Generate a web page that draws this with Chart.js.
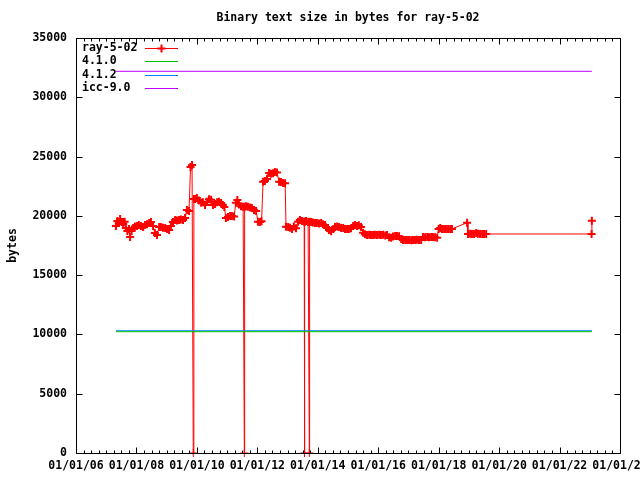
<!DOCTYPE html>
<html>
<head>
<meta charset="utf-8">
<title>Binary text size in bytes for ray-5-02</title>
<script src="https://cdn.jsdelivr.net/npm/chart.js@4.4.0/dist/chart.umd.min.js"></script>
<style>
  html, body { margin: 0; padding: 0; background: #fff; }
  #chart { display: block; }
</style>
</head>
<body>
<canvas id="chart" width="640" height="480"></canvas>
<script>
// --- Data (dates as decimal years) ---
const seriesNames = ['ray-5-02', '4.1.0', '4.1.2', 'icc-9.0'];

const rayDates = [
  2007.32, 2007.37, 2007.42, 2007.46, 2007.51, 2007.56, 2007.61, 2007.65, 2007.70, 2007.75,
  2007.79, 2007.84, 2007.89, 2007.95, 2008.02, 2008.08, 2008.15, 2008.22, 2008.28, 2008.35,
  2008.42, 2008.48, 2008.55, 2008.61, 2008.68, 2008.75, 2008.81, 2008.88, 2008.95, 2009.01,
  2009.08, 2009.14, 2009.21, 2009.28, 2009.34, 2009.41, 2009.47, 2009.54, 2009.61, 2009.67,
  2009.74, 2009.79, 2009.84, 2009.88, 2009.90,
  2009.94, 2010.00, 2010.07, 2010.14, 2010.20, 2010.27, 2010.34, 2010.40, 2010.47, 2010.53,
  2010.60, 2010.67, 2010.73, 2010.80, 2010.86, 2010.91, 2010.96, 2011.03, 2011.10, 2011.16,
  2011.23, 2011.29, 2011.34, 2011.39, 2011.46, 2011.53, 2011.57, 2011.58, 2011.63, 2011.69,
  2011.76, 2011.82, 2011.89, 2011.96, 2012.02, 2012.09, 2012.14, 2012.19, 2012.25, 2012.32,
  2012.39, 2012.45, 2012.52, 2012.58, 2012.65, 2012.72, 2012.78, 2012.85, 2012.92, 2012.95,
  2013.02, 2013.08, 2013.15, 2013.21, 2013.28, 2013.35, 2013.41, 2013.48, 2013.55, 2013.56,
  2013.57, 2013.61, 2013.68, 2013.72, 2013.73, 2013.78, 2013.84, 2013.91, 2013.97, 2014.04,
  2014.11, 2014.17, 2014.24, 2014.31, 2014.37, 2014.44, 2014.51, 2014.57, 2014.64, 2014.70,
  2014.77, 2014.84, 2014.90, 2014.97, 2015.03, 2015.10, 2015.17, 2015.23, 2015.30, 2015.36,
  2015.43, 2015.50, 2015.56, 2015.63, 2015.70, 2015.76, 2015.83, 2015.89, 2015.96, 2016.03,
  2016.09, 2016.16, 2016.23, 2016.29, 2016.36, 2016.42, 2016.49, 2016.56, 2016.62, 2016.69,
  2016.76, 2016.82, 2016.89, 2016.95, 2017.02, 2017.09, 2017.15, 2017.22, 2017.28, 2017.35,
  2017.42, 2017.48, 2017.55, 2017.62, 2017.68, 2017.75, 2017.81, 2017.88, 2017.95, 2018.00,
  2018.05, 2018.11, 2018.18, 2018.24, 2018.31, 2018.38, 2018.44, 2018.94, 2018.97, 2019.04,
  2019.10, 2019.17, 2019.24, 2019.30, 2019.37, 2019.44, 2019.50, 2019.57, 2023.06, 2023.07
];

const raySizes = [
  19150, 19560, 19400, 19740, 19480, 19310, 19500, 18980, 18720, 18900,
  18220, 18720, 18980, 19100, 19150, 19230, 19150, 19060, 19230, 19300,
  19400, 19480, 19150, 18560, 18390, 19060, 19060, 19000, 18980, 18900,
  18800, 19150, 19480, 19650, 19600, 19650, 19700, 19650, 19820, 20490,
  20400, 24120, 24290, 0, 21420,
  21420, 21500, 21300, 21110, 21150, 20920, 21200, 21400, 21350, 20920,
  21000, 21150, 21200, 21090, 20920, 20750, 19820, 19900, 19990, 19990,
  19950, 21110, 21340, 20950, 20800, 20770, 0, 20770, 20800, 20770,
  20700, 20660, 20500, 20410, 19510, 19480, 19550, 22880, 22950, 23100,
  23620, 23550, 23600, 23700, 23650, 22880, 22850, 22770, 22750, 19090,
  19060, 19000, 18900, 19100, 18950, 19510, 19650, 19570, 19500, 0,
  19500, 19570, 19480, 0, 19500, 19480, 19450, 19400, 19400, 19350,
  19400, 19300, 19230, 18980, 18810, 18700, 18900, 19060, 19100, 19050,
  18980, 18980, 18900, 18900, 18890, 18950, 19150, 19230, 19150, 19200,
  19060, 18580, 18450, 18390, 18400, 18390, 18390, 18400, 18390, 18400,
  18390, 18400, 18350, 18390, 18200, 18160, 18250, 18300, 18300, 18280,
  18050, 17960, 17960, 17970, 17960, 17950, 17960, 17960, 17980, 17960,
  17970, 18220, 18200, 18220, 18190, 18220, 18220, 18200, 18150, 18890,
  18980, 18900, 18890, 18900, 18890, 18890, 18900, 19420, 18470, 18500,
  18470, 18470, 18550, 18500, 18470, 18480, 18470, 18470, 18470, 19590
];

// reference compilers: constant size over the whole date range
const refDates = [2007.32, 2023.07];
const refSizes = [10230, 10310, 32190];

const seriesColors = ['#ff0000', '#00c000', '#0080ff', '#c000ff'];

const yearTicks = [2006, 2008, 2010, 2012, 2014, 2016, 2018, 2020, 2022, 2024];

const FONT = 'bold 11.5px "DejaVu Sans Mono", "Liberation Mono", monospace';
const tickFont = { family: '"DejaVu Sans Mono", monospace', size: 11.5, weight: 'bold' };

// --- gnuplot look: frame (in front), inward mirrored tics, title, key ---
const gnuplotFrame = {
  id: 'gnuplotFrame',
  afterDatasetsDraw(chart) {
    const { ctx, chartArea: a, scales: { x, y } } = chart;
    const L = Math.round(a.left) + 0.5, R = Math.round(a.right) + 0.5;
    const T = Math.round(a.top) + 0.5, B = Math.round(a.bottom) + 0.5;
    ctx.save();
    ctx.strokeStyle = '#000';
    ctx.lineWidth = 1;
    ctx.strokeRect(L, T, R - L, B - T);
    ctx.beginPath();
    // x tics every quarter year, major every 2 years
    for (let k = 0; k <= 72; k++) {
      const px = Math.round(x.getPixelForValue(2006 + k / 4)) + 0.5;
      const len = k % 8 === 0 ? 6 : 3;
      ctx.moveTo(px, B); ctx.lineTo(px, B - len);
      ctx.moveTo(px, T); ctx.lineTo(px, T + len);
    }
    // y tics
    for (let k = 0; k <= 7; k++) {
      const py = Math.round(y.getPixelForValue(k * 5000)) + 0.5;
      ctx.moveTo(L, py); ctx.lineTo(L + 6, py);
      ctx.moveTo(R, py); ctx.lineTo(R - 6, py);
    }
    ctx.stroke();
    ctx.restore();
  },
  afterDraw(chart) {
    const { ctx, chartArea: a } = chart;
    ctx.save();
    ctx.font = FONT;
    ctx.fillStyle = '#000';
    ctx.textBaseline = 'middle';

    // title
    ctx.textAlign = 'center';
    ctx.fillText('Binary text size in bytes for ray-5-02', (a.left + a.right) / 2, 18);

    // y axis label
    ctx.save();
    ctx.translate(13, (a.top + a.bottom) / 2);
    ctx.rotate(-Math.PI / 2);
    ctx.fillText('bytes', 0, 0);
    ctx.restore();

    // key
    ctx.textAlign = 'left';
    chart.data.datasets.forEach((ds, i) => {
      const ky = Math.round(48 + i * 13.4) + 0.5;
      ctx.fillStyle = '#000';
      ctx.fillText(ds.label, 82, ky);
      ctx.strokeStyle = ds.borderColor;
      ctx.lineWidth = 1;
      ctx.beginPath();
      ctx.moveTo(145, ky); ctx.lineTo(178, ky);
      ctx.stroke();
      if (ds.pointRadius > 0) {
        ctx.lineWidth = 2;
        ctx.beginPath();
        ctx.moveTo(161.5, ky - 4); ctx.lineTo(161.5, ky + 4);
        ctx.moveTo(157.5, ky); ctx.lineTo(165.5, ky);
        ctx.stroke();
      }
    });
    ctx.restore();
  }
};

const rayPoints = rayDates.map((d, i) => ({ x: d, y: raySizes[i] }));

const datasets = [{
  label: seriesNames[0],
  data: rayPoints,
  borderColor: seriesColors[0],
  borderWidth: 1,
  pointStyle: 'cross',
  pointRadius: 4,
  pointHoverRadius: 4,
  pointBorderColor: seriesColors[0],
  // zero-size builds sit on the border, which hides their horizontal arm
  pointBorderWidth: (c) => (c.raw && c.raw.y === 0 ? 1 : 2),
  tension: 0,
  clip: false,
  order: 1
}];

refSizes.forEach((size, i) => {
  datasets.push({
    label: seriesNames[i + 1],
    data: refDates.map(d => ({ x: d, y: size })),
    borderColor: seriesColors[i + 1],
    borderWidth: 1,
    pointRadius: 0,
    tension: 0,
    clip: false,
    order: 0
  });
});

new Chart(document.getElementById('chart'), {
  type: 'line',
  data: { datasets },
  options: {
    responsive: false,
    animation: false,
    devicePixelRatio: 1,
    events: [],
    layout: { padding: { top: 38, right: 20, left: 0, bottom: 0 } },
    plugins: { legend: { display: false }, title: { display: false }, tooltip: { enabled: false } },
    scales: {
      x: {
        type: 'linear',
        min: yearTicks[0],
        max: yearTicks[yearTicks.length - 1],
        grid: { display: false, drawTicks: false },
        border: { display: false },
        afterBuildTicks: (scale) => { scale.ticks = yearTicks.map(v => ({ value: v })); },
        ticks: {
          autoSkip: false,
          maxRotation: 0,
          padding: 6,
          color: '#000',
          font: tickFont,
          callback: (v) => '01/01/' + String(v).slice(2)
        },
        afterFit: (scale) => { scale.height = 27; scale.paddingLeft = 0; scale.paddingRight = 0; }
      },
      y: {
        min: 0,
        max: 35000,
        grid: { display: false, drawTicks: false },
        border: { display: false },
        ticks: {
          stepSize: 5000,
          padding: 9,
          color: '#000',
          font: tickFont,
          callback: (v) => String(v)
        },
        afterFit: (scale) => { scale.width = 76; scale.paddingTop = 0; scale.paddingBottom = 0; }
      }
    }
  },
  plugins: [gnuplotFrame]
});
</script>
</body>
</html>
